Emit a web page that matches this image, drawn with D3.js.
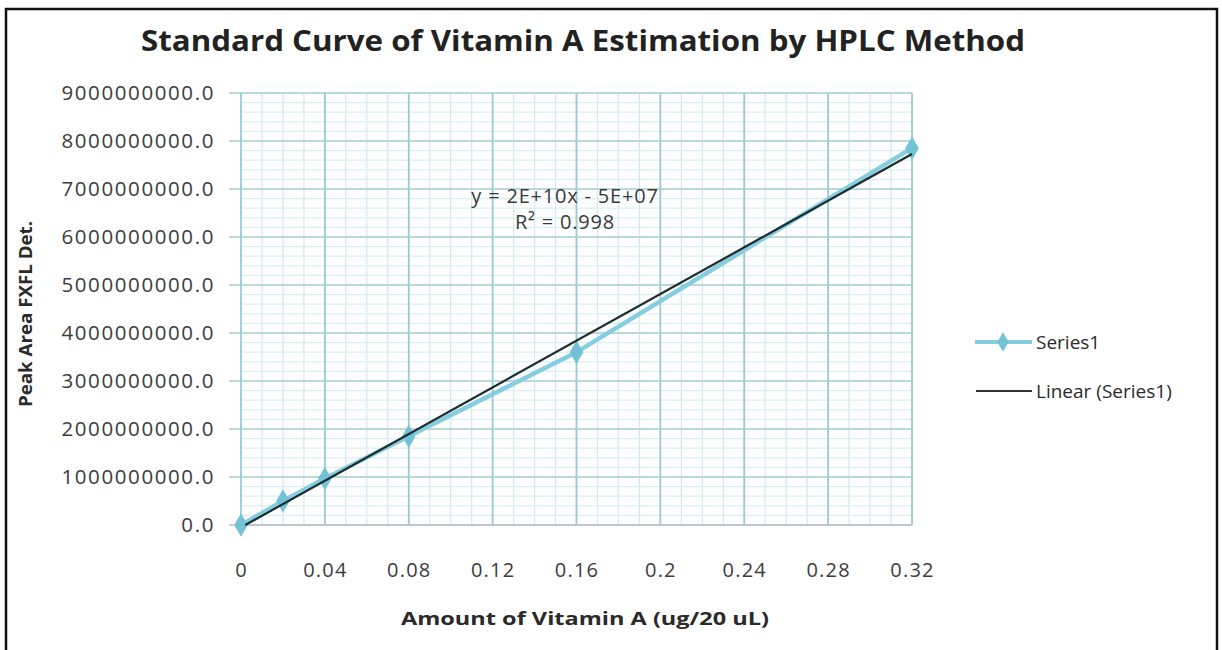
<!DOCTYPE html>
<html><head><meta charset="utf-8">
<script src="https://cdn.jsdelivr.net/npm/d3@7"></script>
<style>
html,body{margin:0;padding:0;background:#fff;}
svg{display:block;}
text{font-family:"Open Sans",Lato,sans-serif;}
</style></head>
<body>
<svg id="c" width="1222" height="650"></svg>
<script>
const titleText = "Standard Curve of Vitamin A Estimation by HPLC Method";
const xTitle = "Amount of Vitamin A (ug/20 uL)";
const yTitle = "Peak Area FXFL Det.";
const amounts = [0, 0.02, 0.04, 0.08, 0.16, 0.32];
const peakAreas = [0, 500000000, 970000000, 1850000000, 3600000000, 7850000000];
const xTickValues = [0, 0.04, 0.08, 0.12, 0.16, 0.2, 0.24, 0.28, 0.32];
const xTickLabels = ["0", "0.04", "0.08", "0.12", "0.16", "0.2", "0.24", "0.28", "0.32"];
const yTickValues = [0, 1e9, 2e9, 3e9, 4e9, 5e9, 6e9, 7e9, 8e9, 9e9];
const yTickLabels = ["0.0","1000000000.0","2000000000.0","3000000000.0","4000000000.0","5000000000.0","6000000000.0","7000000000.0","8000000000.0","9000000000.0"];
const eqLines = ["y = 2E+10x - 5E+07", "R\u00b2 = 0.998"];
const legendLabels = ["Series1", "Linear (Series1)"];

const svg = d3.select("#c");
svg.append("rect").attr("x",6).attr("y",9).attr("width",1211).attr("height",660)
  .attr("fill","none").attr("stroke","#111").attr("stroke-width",2.5);

const L=241, R=912, T=93, B=525;
const x = d3.scaleLinear().domain([0,0.32]).range([L,R]);
const y = d3.scaleLinear().domain([0,9e9]).range([B,T]);

const g = svg.append("g");
const xMinor = d3.range(0,0.3201,0.01);
const yMinor = d3.range(0,9.0001e9,2e8);
g.selectAll(".vx").data(xMinor).enter().append("line")
  .attr("x1",d=>x(d)).attr("x2",d=>x(d)).attr("y1",T).attr("y2",B)
  .attr("stroke","#d2ebf1").attr("stroke-width",1.3);
g.selectAll(".hy").data(yMinor).enter().append("line")
  .attr("y1",d=>y(d)).attr("y2",d=>y(d)).attr("x1",L).attr("x2",R)
  .attr("stroke","#d8eff4").attr("stroke-width",1.2);
g.selectAll(".mx").data(xTickValues).enter().append("line")
  .attr("x1",d=>x(d)).attr("x2",d=>x(d)).attr("y1",T).attr("y2",B)
  .attr("stroke","#9ccad2").attr("stroke-width",1.8);
g.selectAll(".my").data(yTickValues).enter().append("line")
  .attr("y1",d=>y(d)).attr("y2",d=>y(d)).attr("x1",L-12).attr("x2",R)
  .attr("stroke","#a9cfd6").attr("stroke-width",1.6);
g.append("line").attr("x1",L).attr("x2",R).attr("y1",B).attr("y2",B).attr("stroke","#b8c4c8").attr("stroke-width",1.5);

const xAxis = d3.axisBottom(x).tickValues(xTickValues).tickFormat((d,i)=>xTickLabels[i]).tickSize(0).tickPadding(38);
const xa = svg.append("g").attr("transform",`translate(0,${B})`).call(xAxis);
xa.select(".domain").remove();
xa.selectAll("text").attr("font-size",20).attr("letter-spacing",1.2).attr("fill","#3c3c3c").attr("font-family","'Open Sans',sans-serif");

const yAxis = d3.axisLeft(y).tickValues(yTickValues).tickFormat((d,i)=>yTickLabels[i]).tickSize(0).tickPadding(26);
const ya = svg.append("g").attr("transform",`translate(${L},0)`).call(yAxis);
ya.select(".domain").remove();
ya.selectAll("text").attr("font-size",20.5).attr("letter-spacing",1.6).attr("fill","#3c3c3c").attr("font-family","'Open Sans',sans-serif");

const n = amounts.length;
const mx = d3.mean(amounts), my = d3.mean(peakAreas);
let sxy=0, sxx=0;
for(let i=0;i<n;i++){ sxy+=(amounts[i]-mx)*(peakAreas[i]-my); sxx+=(amounts[i]-mx)**2; }
const slope = sxy/sxx, icpt = my - slope*mx;

const line = d3.line().x(d=>x(d[0])).y(d=>y(d[1]));
const pts = amounts.map((a,i)=>[a,peakAreas[i]]);
svg.append("path").attr("d",line(pts)).attr("fill","none").attr("stroke","#86cde0").attr("stroke-width",4.5).attr("stroke-linejoin","round");
const diamond = d3.symbol().type(d3.symbolDiamond).size(160);
svg.selectAll(".pt").data(pts).enter().append("path")
  .attr("d",diamond).attr("transform",d=>`translate(${x(d[0])},${y(d[1])})`)
  .attr("fill","#72c2d8");
const x0 = Math.max(0, -icpt/slope);
svg.append("path").attr("d",line([[x0, slope*x0+icpt],[0.32, slope*0.32+icpt]]))
  .attr("fill","none").attr("stroke","#1d2b2e").attr("stroke-width",2.2);

const eq = svg.append("text").attr("text-anchor","middle").attr("font-size",20).attr("letter-spacing",0.8).attr("fill","#3a3a3a");
eq.append("tspan").attr("x",565).attr("y",203).text(eqLines[0]);
eq.append("tspan").attr("x",565).attr("y",229).text(eqLines[1]);

svg.append("text").attr("x",583).attr("y",51).attr("text-anchor","middle").attr("font-size",29).attr("font-weight","bold")
  .attr("fill","#222").attr("textLength",884).attr("lengthAdjust","spacingAndGlyphs").text(titleText);
svg.append("text").attr("x",585).attr("y",625).attr("text-anchor","middle").attr("font-size",18).attr("font-weight","bold")
  .attr("fill","#2a2a2a").attr("textLength",368).attr("lengthAdjust","spacingAndGlyphs").text(xTitle);
svg.append("text").attr("transform","translate(32,314) rotate(-90)").attr("text-anchor","middle").attr("font-size",18).attr("font-weight","bold")
  .attr("fill","#2a2a2a").attr("textLength",186).attr("lengthAdjust","spacingAndGlyphs").text(yTitle);

const lg = svg.append("g");
lg.append("line").attr("x1",975).attr("x2",1032).attr("y1",342).attr("y2",342).attr("stroke","#86cde0").attr("stroke-width",4);
lg.append("path").attr("d",d3.symbol().type(d3.symbolDiamond).size(110)).attr("transform","translate(1003,342)").attr("fill","#72c2d8");
lg.append("text").attr("x",1036).attr("y",349).attr("font-size",19).attr("fill","#2a2a2a").text(legendLabels[0]);
lg.append("line").attr("x1",976).attr("x2",1032).attr("y1",391).attr("y2",391).attr("stroke","#333").attr("stroke-width",2.2);
lg.append("text").attr("x",1036).attr("y",398).attr("font-size",19).attr("fill","#2a2a2a").text(legendLabels[1]);
</script>
</body></html>
